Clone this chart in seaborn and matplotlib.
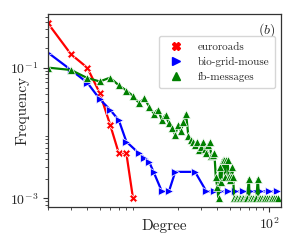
import numpy as np
import pandas as pd
import seaborn as sns
import matplotlib.pyplot as plt
from matplotlib.lines import Line2D
from matplotlib.ticker import FixedLocator, NullFormatter

# degree distributions
euro_deg = [2, 3, 4, 5, 6, 7, 8, 9]
euro_freq = [0.48, 0.162, 0.101, 0.041, 0.0135, 0.0049, 0.0049, 0.001]

bio_deg = [2, 3, 4, 5, 6, 7, 8, 10, 11, 12, 13, 15, 17, 19, 27, 33,
           38, 42, 48, 55, 63, 72, 85, 100, 115]
bio_freq = [0.171, 0.093, 0.0596, 0.0332, 0.0228, 0.0158, 0.0074, 0.0049,
            0.0042, 0.0036, 0.0025, 0.00128, 0.00128, 0.00255, 0.00255, 0.00128,
            0.00128, 0.00128, 0.00128, 0.00128, 0.00128, 0.00128, 0.00128,
            0.00128, 0.00128]

fb_deg = [2, 3, 4, 5, 6, 7, 8, 9, 10, 11, 12, 13, 14, 15, 16, 17, 18, 19,
          20, 21, 22, 23, 24, 25, 26, 27, 28, 29, 30, 31, 32, 33, 34, 35,
          36, 37, 38, 39, 40, 41, 42, 43, 44, 45, 46, 47, 48, 49, 50, 51,
          52, 53, 54, 56, 57, 59, 60, 62, 63, 65, 66, 68, 70, 71, 73, 75,
          76, 78, 80, 82, 84, 86, 88, 91, 94, 97, 100, 103, 106, 110, 113, 117]
fb_freq = [0.101, 0.093, 0.070, 0.062, 0.071, 0.054, 0.045, 0.037, 0.029,
           0.034, 0.0255, 0.020, 0.023, 0.016, 0.019, 0.0142, 0.0119, 0.0094,
           0.0134, 0.0106, 0.0150, 0.020, 0.0089, 0.0079, 0.0072, 0.0066,
           0.0074, 0.0056, 0.0062, 0.0073, 0.0058, 0.0050, 0.0066, 0.0072,
           0.0044, 0.0047, 0.0050, 0.0021, 0.0015, 0.0010, 0.0030, 0.0018,
           0.0039, 0.0039, 0.0021, 0.0039, 0.0039, 0.0021, 0.0019, 0.0021,
           0.0030, 0.0021, 0.0010, 0.001, 0.001, 0.001, 0.001, 0.001, 0.001,
           0.001, 0.001, 0.001, 0.002, 0.001, 0.001, 0.001, 0.001, 0.001,
           0.001, 0.002, 0.001, 0.001, 0.001, 0.001, 0.001, 0.001, 0.001,
           0.001, 0.001, 0.001, 0.001, 0.001]

names = ['euroroads', 'bio-grid-mouse', 'fb-messages']
colors = ['#ff0000', '#0000ff', '#008000']
marks = ['X', '>', '^']

df = pd.concat([
    pd.DataFrame({'degree': euro_deg, 'freq': euro_freq, 'net': names[0]}),
    pd.DataFrame({'degree': bio_deg, 'freq': bio_freq, 'net': names[1]}),
    pd.DataFrame({'degree': fb_deg, 'freq': fb_freq, 'net': names[2]}),
])

sns.set_style('ticks')
plt.rcParams['font.family'] = 'serif'
plt.rcParams['font.serif'] = ['cmr10', 'DejaVu Serif']
plt.rcParams['mathtext.fontset'] = 'cm'
plt.rcParams['axes.formatter.use_mathtext'] = True

fig = plt.figure(figsize=(2.95, 2.42), dpi=100)
ax = fig.add_axes([0.163, 0.145, 0.79, 0.797])

sns.lineplot(data=df, x='degree', y='freq', hue='net', style='net',
             palette=dict(zip(names, colors)), markers=dict(zip(names, marks)),
             dashes=False, estimator=None, sort=False, linewidth=1.6,
             markersize=6, markeredgewidth=0.5, legend=False, ax=ax)

ax.set_xscale('log')
ax.set_yscale('log')
ax.set_xlim(2, 124)
ax.set_ylim(7.4e-4, 0.67)

ax.xaxis.set_major_locator(FixedLocator([100]))
ax.xaxis.set_minor_locator(FixedLocator(list(range(2, 10)) + list(range(20, 100, 10))))
ax.xaxis.set_minor_formatter(NullFormatter())
yminor = []
for dec in [1e-4, 1e-3, 1e-2, 1e-1]:
    yminor += [m * dec for m in range(2, 10)]
ax.yaxis.set_major_locator(FixedLocator([1e-3, 1e-1]))
ax.yaxis.set_minor_locator(FixedLocator(yminor))
ax.yaxis.set_minor_formatter(NullFormatter())
ax.tick_params(which='major', length=3.5, width=0.8, labelsize=10, color='#333333')
ax.tick_params(which='minor', length=2, width=0.6, color='#333333')
for s in ax.spines.values():
    s.set_color('#333333')
    s.set_linewidth(0.9)

ax.set_xlabel('Degree', fontsize=11)
ax.set_ylabel('Frequency', fontsize=11)
ax.xaxis.set_label_coords(0.5, -0.065)
ax.yaxis.set_label_coords(-0.08, 0.5)
ax.text(0.975, 0.965, '$(b)$', transform=ax.transAxes, ha='right', va='top', fontsize=10)

handles = [Line2D([], [], color=c, marker=m, linestyle='none', markersize=6)
           for c, m in zip(colors, marks)]
ax.legend(handles, names, loc='upper right', bbox_to_anchor=(0.975, 0.885),
          borderaxespad=0, fontsize=8, frameon=True, handletextpad=0.9,
          borderpad=0.55, labelspacing=0.45, edgecolor='#cccccc', fancybox=True)

fig.savefig('out.png', dpi=100)
